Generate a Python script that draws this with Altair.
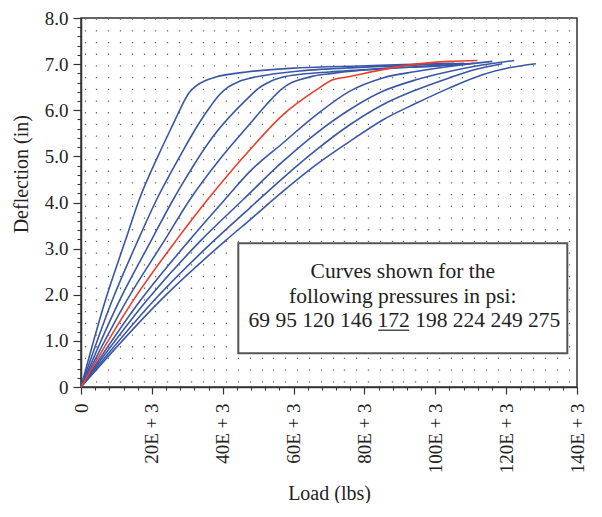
import altair as alt
import pandas as pd

# ---------------- data (load in thousands of lbs, deflection in inches) -------------
pressures = [69, 95, 120, 146, 172, 198, 224, 249, 275]

load_69 = [0, 6.93, 12.59, 16.42, 22.0, 26.5, 28.8, 30.5, 32.5, 35.0, 38.0, 46.7, 61.69, 78.59, 95.5, 105.4]
defl_69 = [0, 1.89, 3.19, 4.06, 5.05, 5.78, 6.15, 6.38, 6.53, 6.64, 6.72, 6.83, 6.92, 6.96, 7.00, 7.02]

load_95 = [0, 8.88, 16.14, 21.32, 27.89, 33.0, 36.5, 39.0, 41.5, 44.5, 48.0, 53.0, 61.69, 78.59, 95.5, 108.2]
defl_95 = [0, 1.89, 3.19, 4.06, 5.00, 5.68, 6.08, 6.33, 6.50, 6.62, 6.70, 6.77, 6.85, 6.93, 6.98, 7.02]

load_120 = [0, 10.96, 19.92, 26.0, 27.89, 37.27, 47.61, 50.0, 52.31, 54.5, 56.99, 62.0, 70.14, 89.86, 109.6]
defl_120 = [0, 1.89, 3.19, 4.06, 4.31, 5.43, 6.30, 6.47, 6.58, 6.66, 6.72, 6.78, 6.83, 6.92, 7.01]

load_146 = [0, 13.02, 23.66, 30.71, 39.0, 47.61, 52.31, 56.99, 59.5, 61.69, 65.5, 70.99, 84.23, 101.1, 111.0]
defl_146 = [0, 1.89, 3.19, 4.06, 4.92, 5.70, 6.12, 6.48, 6.60, 6.66, 6.74, 6.80, 6.90, 6.96, 7.02]

load_172 = [0, 14.84, 26.96, 35.69, 47.61, 56.99, 66.40, 71.07, 75.78, 85.16, 94.57, 103.9, 111.9]
defl_172 = [0, 1.89, 3.19, 4.06, 5.14, 5.90, 6.44, 6.66, 6.73, 6.88, 7.00, 7.06, 7.08]

load_198 = [0, 16.90, 30.71, 40.56, 47.61, 56.99, 66.40, 75.78, 85.16, 94.57, 103.9, 116.1]
defl_198 = [0, 1.89, 3.19, 4.06, 4.67, 5.29, 5.90, 6.41, 6.70, 6.84, 6.95, 7.06]

load_224 = [0, 18.71, 34.0, 45.72, 56.99, 66.40, 75.78, 85.16, 94.57, 103.9, 113.2, 122.3]
defl_224 = [0, 1.89, 3.19, 4.06, 4.89, 5.50, 6.01, 6.41, 6.66, 6.84, 6.98, 7.08]

load_249 = [0, 20.78, 37.75, 47.61, 56.99, 66.40, 75.78, 85.16, 94.57, 103.9, 111.0, 118.9]
defl_249 = [0, 1.89, 3.19, 3.88, 4.53, 5.14, 5.68, 6.12, 6.44, 6.70, 6.88, 7.01]

load_275 = [0, 22.59, 41.04, 47.61, 56.99, 66.40, 75.78, 85.16, 94.57, 103.9, 113.3, 120.8, 128.4]
defl_275 = [0, 1.89, 3.19, 3.62, 4.24, 4.82, 5.32, 5.79, 6.15, 6.48, 6.77, 6.92, 7.01]

highlight = 172

box_line1 = "Curves shown for the"
box_line2 = "following pressures in psi:"
box_left = "69 95 120 146"
box_mid = "172"
box_right = "198 224 249 275"

x_major = [0, 20000, 40000, 60000, 80000, 100000, 120000, 140000]
y_major = [0, 1, 2, 3, 4, 5, 6, 7, 8]

# ---------------- build table ----------------
series = {
    69: (load_69, defl_69), 95: (load_95, defl_95), 120: (load_120, defl_120),
    146: (load_146, defl_146), 172: (load_172, defl_172), 198: (load_198, defl_198),
    224: (load_224, defl_224), 249: (load_249, defl_249), 275: (load_275, defl_275),
}
rows = []
for p in pressures:
    ls, ds = series[p]
    for i, (l, d) in enumerate(zip(ls, ds)):
        rows.append({"pressure": p, "load": l * 1000, "defl": d, "idx": i})
df = pd.DataFrame(rows)
df_blue = df[df.pressure != highlight]
df_red = df[df.pressure == highlight]

BLUE = "#3a56a6"
RED = "#ec3d2b"
FONT = "Liberation Serif"
DARK = "#333333"
TXT = "#222222"

# minor tick / dotted-grid positions (axis decoration)
x_minor = [i * 4000 for i in range(36) if i % 5 != 0]
y_minor = [round(i * 0.2, 1) for i in range(41) if i % 5 != 0]
x_dots = [1000 + k * 20000 / 6 for k in range(42)]

xs = alt.Scale(domain=[0, 140000], nice=False, zero=True)
ys = alt.Scale(domain=[0, 8], nice=False, zero=True)

x_axis = alt.Axis(
    orient="bottom", offset=0, values=x_major, grid=False,
    tickSize=7, tickColor=DARK, tickWidth=1.2,
    domainColor=DARK, domainWidth=1.5,
    labelExpr="datum.value === 0 ? '0' : (datum.value/1000) + 'E + 3'",
    labelAngle=270, labelPadding=9, labelOverlap=False, labelFlush=False,
    labelFont=FONT, labelFontSize=19, labelColor=TXT,
    title="Load (lbs)", titleFont=FONT, titleFontSize=20, titleFontWeight="normal",
    titleColor=TXT, titleY=112, titleBaseline="alphabetic",
)

y_axis = alt.Axis(
    orient="left", offset=0, values=y_major, grid=False,
    tickSize=8, tickColor=DARK, tickWidth=1.2,
    domainColor=DARK, domainWidth=1.5,
    labelExpr="datum.value === 0 ? '0' : format(datum.value, '.1f')",
    labelPadding=5, labelOverlap=False, labelFlush=False,
    labelFont=FONT, labelFontSize=19, labelColor=TXT,
    title="Deflection (in)", titleFont=FONT, titleFontSize=20, titleFontWeight="normal",
    titleColor=TXT, titleX=-60, titleY=155.7, titleAngle=270,
    titleBaseline="middle", titleAlign="center",
)

x_minor_axis = alt.Axis(
    orient="bottom", offset=0, values=x_minor, grid=False, labels=False, domain=False,
    tickSize=3, tickColor=DARK, tickWidth=1.1, title=None,
)
y_minor_axis = alt.Axis(
    orient="left", offset=0, values=y_minor, grid=False, labels=False, domain=False,
    tickSize=4, tickColor=DARK, tickWidth=1.1, title=None,
)
x_dot_axis = alt.Axis(
    orient="bottom", offset=0, values=x_dots, labels=False, domain=False, ticks=False,
    grid=True, gridColor="#6a6a6a", gridWidth=1.3, gridDash=[1.3, 10.4], title=None,
)

dots = alt.Chart(df).mark_point(opacity=0).encode(
    x=alt.X("load:Q", scale=xs, axis=x_dot_axis),
    y=alt.Y("defl:Q", scale=ys, axis=None),
)

minor = alt.Chart(df).mark_point(opacity=0).encode(
    x=alt.X("load:Q", scale=xs, axis=x_minor_axis),
    y=alt.Y("defl:Q", scale=ys, axis=y_minor_axis),
)

blue_lines = alt.Chart(df_blue).mark_line(
    interpolate="monotone", strokeWidth=1.6, color=BLUE
).encode(
    x=alt.X("load:Q", scale=xs, axis=x_axis),
    y=alt.Y("defl:Q", scale=ys, axis=y_axis),
    detail="pressure:N",
    order="idx:Q",
)

red_line = alt.Chart(df_red).mark_line(
    interpolate="monotone", strokeWidth=1.6, color=RED
).encode(
    x=alt.X("load:Q", scale=xs, axis=None),
    y=alt.Y("defl:Q", scale=ys, axis=None),
    order="idx:Q",
)

one = pd.DataFrame({"k": [0]})
box = alt.Chart(one).mark_rect(
    fill="white", stroke="#555555", strokeWidth=2
).encode(
    x=alt.value(157.3), x2=alt.value(486.3), y=alt.value(225.3), y2=alt.value(335.3)
)


def label(txt, x, y, align):
    return alt.Chart(pd.DataFrame({"t": [txt]})).mark_text(
        font=FONT, fontSize=21.5, color=TXT, align=align, baseline="alphabetic"
    ).encode(text="t:N", x=alt.value(x), y=alt.value(y))


MID = 312.7
texts = [
    label(box_line1, 321.8, 260.3, "center"),
    label(box_line2, 321.8, 285.3, "center"),
    label(box_left, MID - 21.5, 308.7, "right"),
    label(box_mid, MID, 308.7, "center"),
    label(box_right, MID + 21.5, 308.7, "left"),
]

underline = alt.Chart(one).mark_rule(color=TXT, strokeWidth=1.2).encode(
    x=alt.value(MID - 15.5), x2=alt.value(MID + 15.5), y=alt.value(312.2)
)

chart = alt.layer(
    dots, minor, blue_lines, red_line, box, *texts, underline
).resolve_axis(
    x="independent", y="independent"
).properties(
    width=496, height=369,
    autosize=alt.AutoSizeParams(type="none"),
    padding={"left": 73, "top": 10, "right": 17, "bottom": 116},
).configure_view(
    stroke=DARK, strokeWidth=1.5
)

chart.save("out.html", embed_options={"renderer": "svg", "actions": False})
